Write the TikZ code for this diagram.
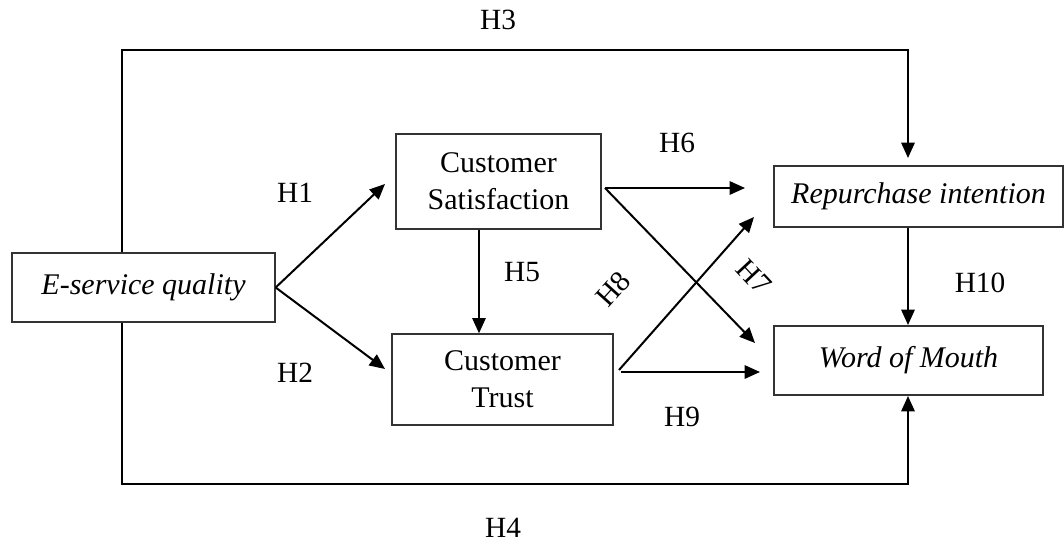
\documentclass[tikz,border=0pt]{standalone}
\usepackage{fontspec}
\setmainfont{Liberation Serif}
\usetikzlibrary{arrows.meta}
\begin{document}
\begin{tikzpicture}[x=0.75pt,y=-0.75pt,
  box/.style={draw=black!80,line width=1pt,align=center,inner sep=0pt,
    font=\fontsize{22.5}{28}\selectfont},
  lbl/.style={inner sep=0pt,font=\fontsize{22}{26}\selectfont},
  arr/.style={line width=1.5pt,-{Triangle[length=11.5pt,width=10pt]}}]
\path[use as bounding box] (0,0) rectangle (1064,542);

% constructs
\node[box,minimum width=197.25pt,minimum height=51.75pt] (es) at (143.5,287.5) {\itshape E-service quality};
\node[box,minimum width=153.75pt,minimum height=71.25pt] (cs) at (498.5,181.5) {Customer\\Satisfaction};
\node[box,minimum width=165.75pt,minimum height=68.25pt] (ct) at (502.5,379.5) {Customer\\Trust};
\node[box,minimum width=216.75pt,minimum height=45.75pt] (ri) at (918.5,196.5) {\itshape Repurchase intention};
\node[box,minimum width=201.75pt,minimum height=51.75pt] (wm) at (908.5,360.5) {\itshape Word of Mouth};

% routing points
\coordinate (c3) at (122,50);
\coordinate (c4) at (122,484);
\coordinate (c5) at (479,0);
\coordinate (c10) at (908,0);
\coordinate (t1) at (385,184);
\coordinate (t2) at (385,369);
\coordinate (s6) at (605,188);
\coordinate (t6) at (745,188);
\coordinate (t7) at (755,343);
\coordinate (s8) at (619,370);
\coordinate (t8) at (754,217);
\coordinate (s9) at (621,372);
\coordinate (t9) at (760,372);
\coordinate (t3) at (908,158);
\coordinate (t4) at (908,396);
\coordinate (t10) at (908,325);

% paths
\draw[arr] (es.east) -- (t1);
\draw[arr] (es.east) -- (t2);
\draw[arr] (cs.south -| c5) -- (ct.north -| c5);
\draw[arr] (s6) -- (t6);
\draw[arr] (s6) -- (t7);
\draw[arr] (s8) -- (t8);
\draw[arr] (s9) -- (t9);
\draw[arr] (es.north -| c3) -- (c3) -| (t3);
\draw[arr] (es.south -| c3) -- (c4) -| (t4);
\draw[arr] (ri.south -| c10) -- (t10);

% hypothesis labels
\node[lbl] (h1) at (295,193) {H1};
\node[lbl] (h2) at (295,373) {H2};
\node[lbl] (h3) at (498,20) {H3};
\node[lbl] (h4) at (503,528) {H4};
\node[lbl] (h5) at (522,272) {H5};
\node[lbl] (h6) at (677,143) {H6};
\node[lbl,rotate=-47] (h7) at (754,277) {H7};
\node[lbl,rotate=48] (h8) at (613,289) {H8};
\node[lbl] (h9) at (682,417) {H9};
\node[lbl] (h10) at (980,283) {H10};
\end{tikzpicture}
\end{document}
